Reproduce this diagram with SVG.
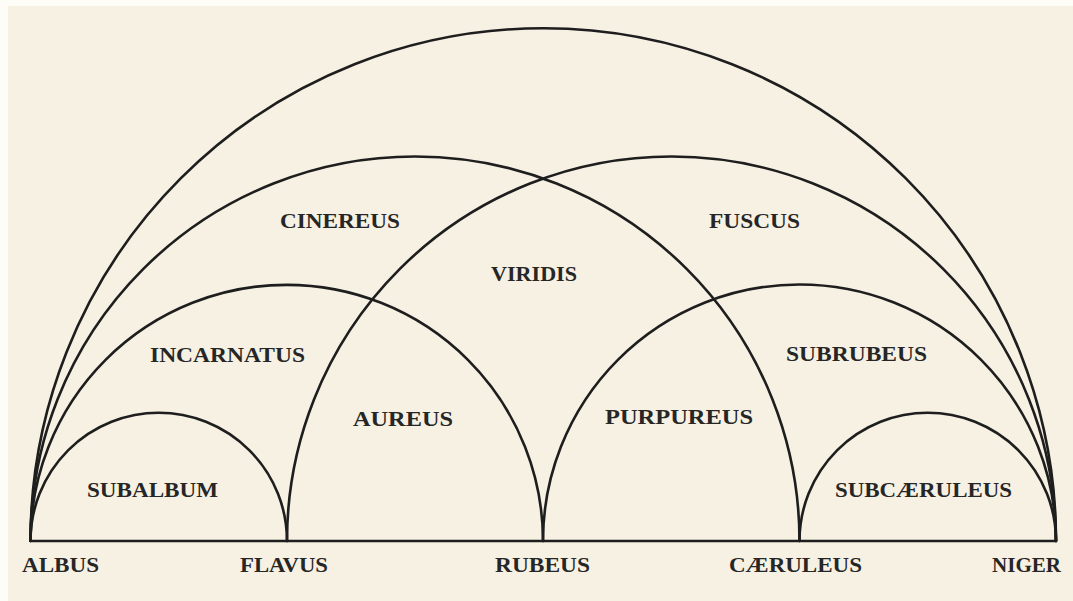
<svg xmlns="http://www.w3.org/2000/svg" width="1073" height="601" viewBox="0 0 1073 601">
<style>
.arc{fill:none;stroke:#1e1e1e;stroke-width:2.6;stroke-linecap:round;stroke-linejoin:round}
.lbl{font-family:"Liberation Serif","DejaVu Serif",serif;font-weight:bold;font-size:21px;fill:#262626;text-anchor:start}
</style>
<rect x="0" y="0" width="1073" height="601" fill="#fdfcf7"/>
<rect x="8" y="6" width="1065" height="595" fill="#f6f1e2"/>
<g id="arcs">
<path class="arc" d="M30.5,541 A512.75,512.75 0 0 1 1056,541 Z"/>
<path class="arc" d="M30.5,541 A384.5,384.5 0 0 1 799.5,541"/>
<path class="arc" d="M287,541 A384.5,384.5 0 0 1 1056,541"/>
<path class="arc" d="M30.5,541 A256.25,256.25 0 0 1 543,541"/>
<path class="arc" d="M543,541 A256.5,256.5 0 0 1 1056,541"/>
<path class="arc" d="M30.5,541 A128.25,128.25 0 0 1 287,541"/>
<path class="arc" d="M799.5,541 A128.25,128.25 0 0 1 1056,541"/>
</g>
<g id="labels">
<text class="lbl" x="22" y="572" textLength="77" lengthAdjust="spacingAndGlyphs">ALBUS</text>
<text class="lbl" x="240" y="572" textLength="88" lengthAdjust="spacingAndGlyphs">FLAVUS</text>
<text class="lbl" x="495" y="572" textLength="95" lengthAdjust="spacingAndGlyphs">RUBEUS</text>
<text class="lbl" x="729" y="572" textLength="133" lengthAdjust="spacingAndGlyphs">CÆRULEUS</text>
<text class="lbl" x="992" y="572" textLength="69" lengthAdjust="spacingAndGlyphs">NIGER</text>
<text class="lbl" x="280" y="228" textLength="120" lengthAdjust="spacingAndGlyphs">CINEREUS</text>
<text class="lbl" x="491" y="281" textLength="86" lengthAdjust="spacingAndGlyphs">VIRIDIS</text>
<text class="lbl" x="709" y="228" textLength="91" lengthAdjust="spacingAndGlyphs">FUSCUS</text>
<text class="lbl" x="150" y="362" textLength="155" lengthAdjust="spacingAndGlyphs">INCARNATUS</text>
<text class="lbl" x="353" y="426" textLength="100" lengthAdjust="spacingAndGlyphs">AUREUS</text>
<text class="lbl" x="605" y="424" textLength="148" lengthAdjust="spacingAndGlyphs">PURPUREUS</text>
<text class="lbl" x="786" y="361" textLength="141" lengthAdjust="spacingAndGlyphs">SUBRUBEUS</text>
<text class="lbl" x="87" y="497" textLength="131" lengthAdjust="spacingAndGlyphs">SUBALBUM</text>
<text class="lbl" x="835" y="497" textLength="177" lengthAdjust="spacingAndGlyphs">SUBCÆRULEUS</text>
</g>
</svg>
